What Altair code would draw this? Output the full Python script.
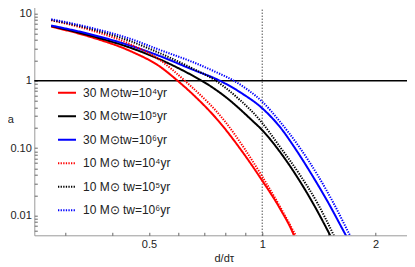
import altair as alt
import pandas as pd

# ---- data (d/d_tau, a) ----
labels = ["30 M⊙tw=10⁴yr", "30 M⊙tw=10⁵yr", "30 M⊙tw=10⁶yr",
          "10 M⊙ tw=10⁴yr", "10 M⊙ tw=10⁵yr", "10 M⊙ tw=10⁶yr"]

d_r30 = [0.275, 0.35, 0.45, 0.535, 0.596, 0.65, 0.764, 0.9, 1.0, 1.114, 1.21, 1.23]
a_r30 = [6.35, 4.46, 2.7, 1.62, 1.0, 0.65, 0.256, 0.078, 0.033, 0.0128, 0.0053, 0.0042]

d_k30 = [0.275, 0.35, 0.45, 0.535, 0.65, 0.691, 0.8, 0.937, 1.0, 1.114, 1.23, 1.37, 1.51, 1.53]
a_k30 = [6.5, 4.66, 3.04, 2.07, 1.21, 1.0, 0.573, 0.262, 0.185, 0.0885, 0.0397, 0.0146, 0.0053, 0.0046]

d_b30 = [0.275, 0.35, 0.45, 0.535, 0.65, 0.772, 0.88, 1.0, 1.114, 1.23, 1.355, 1.5, 1.668, 1.685]
a_b30 = [6.6, 4.89, 3.27, 2.32, 1.48, 1.0, 0.658, 0.391, 0.207, 0.0946, 0.0402, 0.0153, 0.0051, 0.0046]

d_r10 = [0.275, 0.35, 0.45, 0.535, 0.623, 0.65, 0.796, 0.9, 1.0, 1.114, 1.234, 1.25]
a_r10 = [7.9, 5.64, 3.41, 2.03, 1.0, 0.808, 0.25, 0.0958, 0.0379, 0.0137, 0.0048, 0.0042]

d_k10 = [0.275, 0.35, 0.45, 0.535, 0.65, 0.753, 0.86, 0.986, 1.114, 1.26, 1.4, 1.544, 1.56]
a_k10 = [8.0, 5.9, 3.8, 2.56, 1.54, 1.0, 0.557, 0.261, 0.105, 0.040, 0.0155, 0.0053, 0.0047]

d_b10 = [0.275, 0.35, 0.45, 0.535, 0.65, 0.75, 0.841, 0.92, 1.0, 1.114, 1.25, 1.402, 1.55, 1.71, 1.73]
a_b10 = [8.2, 6.12, 4.12, 2.86, 1.92, 1.36, 1.0, 0.72, 0.49, 0.248, 0.107, 0.0402, 0.015, 0.0051, 0.0045]

colors = ["#ff0000", "#000000", "#0000ff", "#ff0000", "#000000", "#0000ff"]
dashes = [[1, 0], [1, 0], [1, 0], [1.3, 1.3], [1.3, 1.3], [1.3, 1.3]]
widths = [2, 2, 2, 1.1, 1.1, 1.1]

x_ticks = [0.3, 0.4, 0.5, 0.6, 0.7, 0.8, 0.9, 1, 1.5, 2]
y_ticks = [0.006, 0.007, 0.008, 0.009, 0.01, 0.02, 0.03, 0.04, 0.05, 0.06, 0.07, 0.08, 0.09,
           0.1, 0.2, 0.3, 0.4, 0.5, 0.6, 0.7, 0.8, 0.9, 1, 2, 3, 4, 5, 6, 7, 8, 9, 10]

series = [(labels[0], d_r30, a_r30), (labels[1], d_k30, a_k30), (labels[2], d_b30, a_b30),
          (labels[3], d_r10, a_r10), (labels[4], d_k10, a_k10), (labels[5], d_b10, a_b10)]
rows = []
for name, ds, as_ in series:
    for d, a in zip(ds, as_):
        rows.append({"series": name, "d": d, "a": a})
df = pd.DataFrame(rows)

FONT = "Liberation Sans"
xscale = alt.Scale(type="log", domain=[0.248, 2.52], nice=False)
yscale = alt.Scale(type="log", domain=[0.0051, 15.4], nice=False)

xaxis = alt.Axis(values=x_ticks, title="d/dτ", grid=False, domain=False,
                 offset=-3, tickSize=3, tickColor="#666666", labelPadding=3,
                 labelExpr="datum.value == 0.5 ? '0.5' : datum.value == 1 ? '1' : datum.value == 2 ? '2' : ''",
                 labelFont=FONT, labelFontSize=11, labelColor="#222222", labelOverlap=False,
                 labelFlush=False, titleFont=FONT, titleFontSize=11, titleFontWeight="normal",
                 titleColor="#222222", titlePadding=3)
yaxis = alt.Axis(values=y_ticks, title="a", grid=False, domain=False,
                 offset=-3, tickSize=3, tickColor="#666666", labelPadding=3,
                 labelExpr="datum.value == 0.01 ? '0.01' : datum.value == 0.1 ? '0.10' : datum.value == 1 ? '1' : datum.value == 10 ? '10' : ''",
                 labelFont=FONT, labelFontSize=11, labelColor="#222222", labelOverlap=False,
                 titleFont=FONT, titleFontSize=11, titleFontWeight="normal", titleColor="#222222",
                 titleAngle=0, titleX=-27, titleY=119, titleAlign="center", titleBaseline="middle")

legend = alt.Legend(title=None, orient="none", legendX=22.7, legendY=82, padding=0,
                    symbolType="stroke", symbolSize=324, rowPadding=7.5, labelOffset=6,
                    labelFont=FONT, labelFontSize=12, labelColor="#222222", direction="vertical")

lines = alt.Chart(df).mark_line(clip=True, interpolate="monotone").encode(
    x=alt.X("d:Q", scale=xscale, axis=xaxis),
    y=alt.Y("a:Q", scale=yscale, axis=yaxis),
    color=alt.Color("series:N", scale=alt.Scale(domain=labels, range=colors), legend=legend),
    strokeDash=alt.StrokeDash("series:N", scale=alt.Scale(domain=labels, range=dashes), legend=legend),
    strokeWidth=alt.StrokeWidth("series:N", scale=alt.Scale(domain=labels, range=widths), legend=legend),
    order=alt.Order("d:Q"),
)

hline = alt.Chart(pd.DataFrame({"a": [1.0]})).mark_rule(color="black", strokeWidth=1.6).encode(
    y=alt.Y("a:Q", scale=yscale))
vline = alt.Chart(pd.DataFrame({"d": [1.0]})).mark_rule(color="black", strokeWidth=1, strokeDash=[1, 2]).encode(
    x=alt.X("d:Q", scale=xscale))

chart = alt.layer(vline, hline, lines).properties(
    width=379, height=234.6,
    padding={"left": 26.3, "top": -7.3, "right": -6.3, "bottom": 30},
    autosize="none",
).configure_view(stroke="#9a9a9a", strokeWidth=1)

chart.save("out.html", embed_options={"renderer": "svg", "actions": False})
